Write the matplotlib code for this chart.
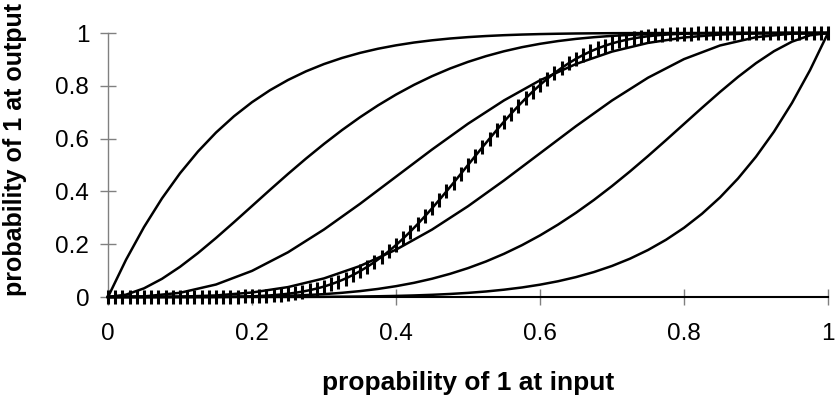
import numpy as np
import matplotlib.pyplot as plt

plt.rcParams['font.family'] = ['Liberation Sans', 'DejaVu Sans']

# input probability for the two middle smooth curves
p_coarse = [0.00, 0.05, 0.10, 0.15, 0.20, 0.25, 0.30, 0.35, 0.40, 0.45, 0.50,
            0.55, 0.60, 0.65, 0.70, 0.75, 0.80, 0.85, 0.90, 0.95, 1.00]
# finer input grid for the more bent curves
p_mid = np.linspace(0, 1, 41)

curve1 = [0, 0.1409, 0.2649, 0.3736, 0.4686, 0.5512, 0.6229, 0.6847, 0.7379, 0.7833,
          0.8220, 0.8548, 0.8824, 0.9054, 0.9246, 0.9404, 0.9533, 0.9639, 0.9723, 0.9791,
          0.9844, 0.9885, 0.9917, 0.9941, 0.9959, 0.9972, 0.9982, 0.9988, 0.9993, 0.9996,
          0.9998, 0.9999, 0.9999, 1.0, 1.0, 1.0, 1.0, 1.0, 1.0, 1.0, 1.0]
curve2 = [0, 0.0088, 0.0328, 0.0689, 0.1143, 0.1665, 0.2235, 0.2834, 0.3446, 0.4059,
          0.4661, 0.5243, 0.5798, 0.6322, 0.6809, 0.7258, 0.7667, 0.8036, 0.8364, 0.8654,
          0.8906, 0.9123, 0.9308, 0.9463, 0.9590, 0.9694, 0.9777, 0.9841, 0.9891, 0.9928,
          0.9954, 0.9972, 0.9984, 0.9992, 0.9996, 0.9998, 0.9999, 1.0, 1.0, 1.0, 1.0]
curve3 = [0, 0.0022, 0.0159, 0.0473, 0.0989, 0.1694, 0.2557, 0.3529, 0.4557, 0.5585, 0.6563,
          0.7447, 0.8208, 0.8826, 0.9295, 0.9624, 0.9830, 0.9941, 0.9987, 0.9999, 1.0]
curve4 = [0, 0.0001, 0.0013, 0.0059, 0.0170, 0.0376, 0.0705, 0.1174, 0.1792, 0.2553, 0.3438,
          0.4415, 0.5443, 0.6471, 0.7443, 0.8306, 0.9011, 0.9527, 0.9841, 0.9978, 1.0]
curve5 = [0, 0.0, 0.0, 0.0, 0.0001, 0.0002, 0.0004, 0.0008, 0.0016, 0.0028,
          0.0046, 0.0072, 0.0109, 0.0159, 0.0223, 0.0306, 0.0410, 0.0537, 0.0692, 0.0877,
          0.1094, 0.1346, 0.1636, 0.1964, 0.2333, 0.2742, 0.3191, 0.3678, 0.4202, 0.4757,
          0.5339, 0.5941, 0.6554, 0.7166, 0.7765, 0.8335, 0.8857, 0.9311, 0.9672, 0.9912, 1.0]
curve6 = [0, 0.0, 0.0, 0.0, 0.0, 0.0, 0.0, 0.0, 0.0001, 0.0001,
          0.0002, 0.0004, 0.0007, 0.0012, 0.0018, 0.0028, 0.0041, 0.0059, 0.0083, 0.0115,
          0.0156, 0.0209, 0.0277, 0.0361, 0.0467, 0.0596, 0.0754, 0.0946, 0.1176, 0.1452,
          0.1780, 0.2167, 0.2621, 0.3153, 0.3771, 0.4488, 0.5314, 0.6264, 0.7351, 0.8591, 1.0]

# marked curve, one point per 0.01 of input
p_fine = np.linspace(0, 1, 101)
marked = [0.0000, 0.0000, 0.0000, 0.0000, 0.0000, 0.0000, 0.0000, 0.0000, 0.0000, 0.0000,
          0.0000, 0.0000, 0.0001, 0.0001, 0.0002, 0.0003, 0.0005, 0.0008, 0.0013, 0.0019,
          0.0027, 0.0038, 0.0052, 0.0071, 0.0094, 0.0124, 0.0160, 0.0204, 0.0258, 0.0321,
          0.0396, 0.0484, 0.0585, 0.0700, 0.0831, 0.0978, 0.1141, 0.1322, 0.1520, 0.1735,
          0.1967, 0.2216, 0.2481, 0.2760, 0.3053, 0.3358, 0.3674, 0.3998, 0.4328, 0.4663,
          0.5000,
          0.5337, 0.5672, 0.6002, 0.6326, 0.6642, 0.6947, 0.7240, 0.7519, 0.7784, 0.8033,
          0.8265, 0.8480, 0.8678, 0.8859, 0.9022, 0.9169, 0.9300, 0.9415, 0.9516, 0.9604,
          0.9679, 0.9742, 0.9796, 0.9840, 0.9876, 0.9906, 0.9929, 0.9948, 0.9962, 0.9973,
          0.9981, 0.9987, 0.9992, 0.9995, 0.9997, 0.9998, 0.9999, 0.9999, 1.0000, 1.0000,
          1.0, 1.0, 1.0, 1.0, 1.0, 1.0, 1.0, 1.0, 1.0, 1.0]

x_ticks = [0, 0.2, 0.4, 0.6, 0.8, 1]
x_labels = ['0', '0.2', '0.4', '0.6', '0.8', '1']
y_ticks = [0, 0.2, 0.4, 0.6, 0.8, 1]
y_labels = ['0', '0.2', '0.4', '0.6', '0.8', '1']

fig = plt.figure(figsize=(8.35, 3.98), dpi=100)
ax = fig.add_axes([108 / 835, 101 / 398, 720 / 835, 264 / 398])

lw = 1.8
ax.plot(p_mid, curve1, color='black', linewidth=lw, clip_on=False, zorder=3)
ax.plot(p_mid, curve2, color='black', linewidth=lw, clip_on=False, zorder=3)
ax.plot(p_coarse, curve3, color='black', linewidth=lw, clip_on=False, zorder=3)
ax.plot(p_coarse, curve4, color='black', linewidth=lw, clip_on=False, zorder=3)
ax.plot(p_mid, curve5, color='black', linewidth=lw, clip_on=False, zorder=3)
ax.plot(p_mid, curve6, color='black', linewidth=lw, clip_on=False, zorder=3)

ax.plot(p_fine, marked, color='black', linewidth=lw, marker='|', markersize=10,
        markeredgewidth=2.2, clip_on=False, zorder=4)

ax.set_xlim(0, 1)
ax.set_ylim(0, 1)
ax.set_xticks(x_ticks)
ax.set_xticklabels(x_labels)
ax.set_yticks(y_ticks)
ax.set_yticklabels(y_labels)

for s in ['top', 'right']:
    ax.spines[s].set_visible(False)
ax.spines['left'].set_color('#808080')
ax.spines['left'].set_linewidth(1)
ax.spines['bottom'].set_color('black')
ax.spines['bottom'].set_linewidth(1.5)

ax.tick_params(axis='x', direction='inout', length=11, width=1, color='#808080',
               labelsize=17.5, pad=13)
ax.tick_params(axis='y', direction='inout', length=11, width=1, color='#808080',
               labelsize=17.5, pad=8)

ax.set_xlabel('propability of 1 at input', fontsize=19, fontweight='bold')
ax.set_ylabel('probability of 1 at output', fontsize=18, fontweight='bold')
ax.xaxis.set_label_coords(0.5, -0.28)
ax.yaxis.set_label_coords(-0.1125, 0.557)

fig.savefig('out.png', dpi=100)
